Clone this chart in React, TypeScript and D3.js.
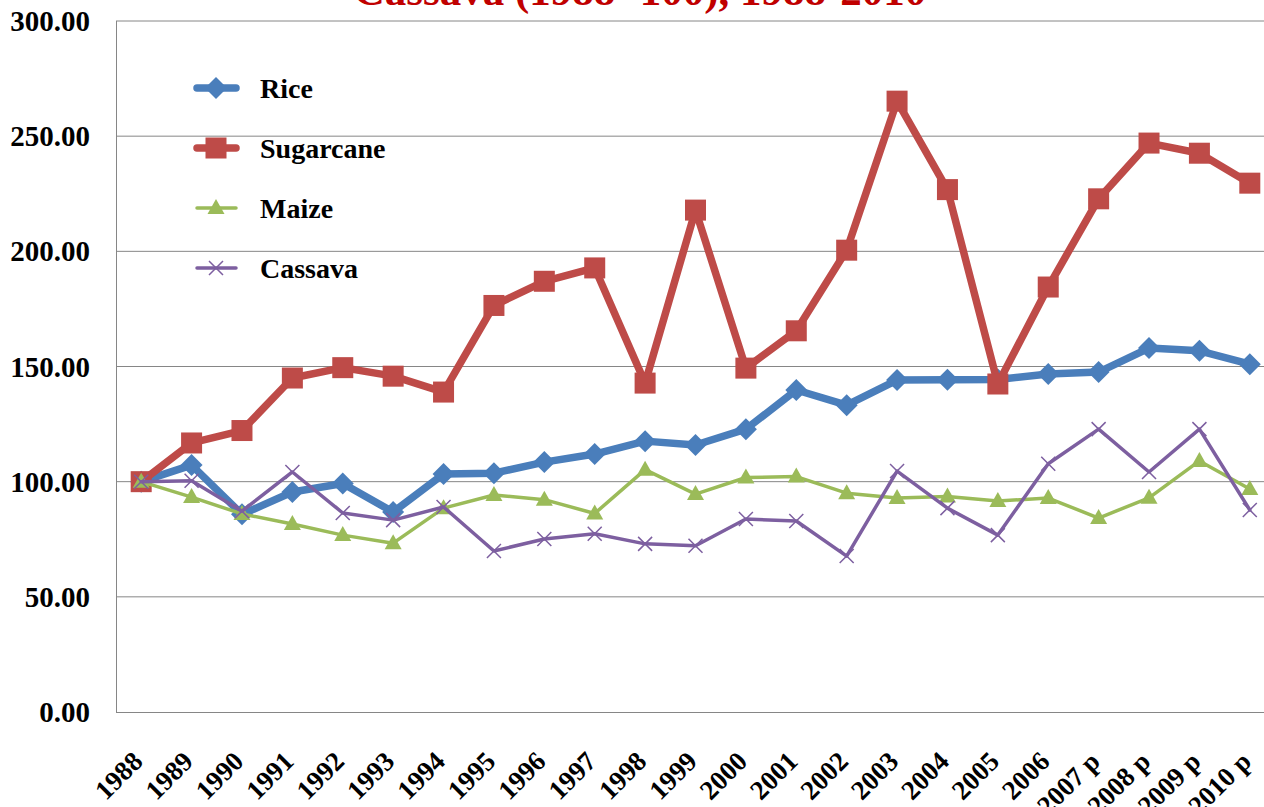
import React from "react";
import * as d3 from "d3";

const years = ["1988","1989","1990","1991","1992","1993","1994","1995","1996","1997","1998","1999","2000","2001","2002","2003","2004","2005","2006","2007 p","2008 p","2009 p","2010 p"];
const rice = [100,107.2,85.8,95.5,99.2,86.8,103.3,103.7,108.5,112,117.6,115.9,122.8,139.8,133.2,144.1,144.2,144.4,146.7,147.6,158,156.8,151];
const sugarcane = [100,116.8,122.2,145,149.5,145.8,138.9,176.5,187,192.8,142.8,217.9,149.3,165.5,200.5,265.2,226.8,142.4,184.5,222.8,247,242.6,229.6];
const maize = [100,93.3,86,81.6,76.8,73.3,88.5,94.2,92.2,86.2,105.2,94.6,101.8,102.2,95,92.9,93.6,91.6,92.9,84.2,93,109,96.8];
const cassava = [100,100.4,87.2,104.2,86.4,83.3,89,69.9,75.1,77.4,73,72.2,83.8,82.9,67.7,104.6,88.5,76.8,107.8,122.8,104.2,122.8,87.7];
const yTicks = [0,50,100,150,200,250,300];
const title = "Cassava (1988=100), 1988-2010";

const seriesNames = ["Rice","Sugarcane","Maize","Cassava"];
const seriesValues = [rice, sugarcane, maize, cassava];
const colors = ["#4A7EBB","#BE4B48","#9BBB59","#7D5FA0"];
const widths = [7.5, 7.5, 3.5, 3.5];
const markerKinds = ["diamond","square","triangle","x"];

function Marker({ kind, color, x, y }: { kind: string; color: string; x: number; y: number }) {
  if (kind === "diamond") {
    return <path d={`M${x},${y - 11}L${x + 11},${y}L${x},${y + 11}L${x - 11},${y}Z`} fill={color} />;
  }
  if (kind === "square") {
    return <rect x={x - 10.5} y={y - 10.5} width={21} height={21} fill={color} />;
  }
  if (kind === "triangle") {
    return <path d={`M${x},${y - 9}L${x + 8.5},${y + 6}L${x - 8.5},${y + 6}Z`} fill={color} />;
  }
  return (
    <path
      d={`M${x - 7},${y - 7}L${x + 7},${y + 7}M${x - 7},${y + 7}L${x + 7},${y - 7}`}
      stroke={color}
      strokeWidth={1.5}
      fill="none"
    />
  );
}

export default function App() {
  const W = 1264, H = 807;
  const x = d3.scaleBand<string>().domain(years).range([116, 1275]);
  const y = d3.scaleLinear().domain([0, 300]).range([712, 21]);
  const cx = (c: string) => (x(c) as number) + x.bandwidth() / 2;
  const line = d3.line<number>().x((_, i) => cx(years[i])).y((d) => y(d));
  const font = "'Liberation Serif', 'Times New Roman', serif";
  const legendY = [88, 148, 208, 268];

  return (
    <svg width={W} height={H} style={{ position: "absolute", left: 0, top: 0 }} fontFamily={font}>
      <rect width={W} height={H} fill="#fff" />
      <text x={640} y={5} textAnchor="middle" fontSize={43} fontWeight="bold" fill="#C00000">{title}</text>
      {yTicks.map((t) => (
        <g key={t}>
          {t > 0 && <line x1={116} x2={1275} y1={y(t)} y2={y(t)} stroke="#868686" strokeWidth={1} />}
          <text x={90} y={y(t) + 10} textAnchor="end" fontSize={29} fontWeight="bold" fill="#000">{t.toFixed(2)}</text>
        </g>
      ))}
      <line x1={116.5} x2={116.5} y1={21} y2={712.5} stroke="#868686" strokeWidth={1} />
      <line x1={116} x2={1275} y1={712.5} y2={712.5} stroke="#868686" strokeWidth={1} />
      {years.map((c) => (
        <text
          key={c}
          transform={`translate(${cx(c) + 3},${763}) rotate(-45)`}
          textAnchor="end"
          fontSize={27}
          fontWeight="bold"
          fill="#000"
        >{c}</text>
      ))}
      {seriesValues.map((vals, si) => (
        <g key={seriesNames[si]}>
          <path d={line(vals) || ""} fill="none" stroke={colors[si]} strokeWidth={widths[si]} strokeLinejoin="round" strokeLinecap="round" />
          {vals.map((v, i) => (
            <Marker key={i} kind={markerKinds[si]} color={colors[si]} x={cx(years[i])} y={y(v)} />
          ))}
        </g>
      ))}
      {seriesNames.map((n, si) => (
        <g key={n}>
          <line x1={197} x2={236} y1={legendY[si]} y2={legendY[si]} stroke={colors[si]} strokeWidth={widths[si]} strokeLinecap="round" />
          <Marker kind={markerKinds[si]} color={colors[si]} x={216} y={legendY[si]} />
          <text x={260} y={legendY[si] + 10} fontSize={28} fontWeight="bold" fill="#000">{n}</text>
        </g>
      ))}
    </svg>
  );
}
